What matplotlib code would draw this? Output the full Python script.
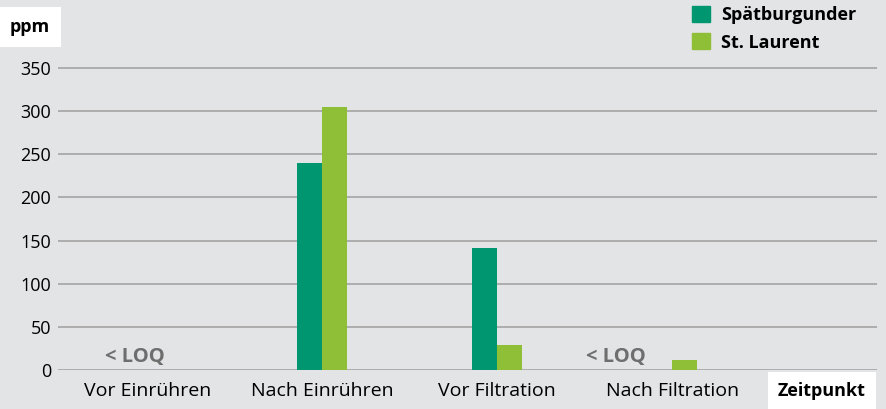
import numpy as np
import matplotlib
matplotlib.use('Agg')
from matplotlib import pyplot as plt
from matplotlib.patches import Patch

# data
categories = ['Vor Einrühren', 'Nach Einrühren', 'Vor Filtration', 'Nach Filtration']
spaetburgunder = [0, 240, 141, 0]
st_laurent = [0, 305, 29, 12]
loq_x = [-0.07, 2.68]
yticks = [0, 50, 100, 150, 200, 250, 300, 350]

bg = '#e3e4e6'
dark = '#009670'
light = '#8fbe37'
plt.rcParams['font.family'] = ['Open Sans', 'DejaVu Sans']
fs = 13

fig = plt.figure(figsize=(8.87, 4.09), dpi=100, facecolor=bg)
ax = fig.add_axes([58/887, 39/409, (877-58)/887, 310/409])
ax.set_facecolor(bg)

x = np.arange(len(categories))
w = 0.143
ax.bar(x - w/2, spaetburgunder, w, color=dark, zorder=3)
ax.bar(x + w/2, st_laurent, w, color=light, zorder=3)

for xl in loq_x:
    ax.text(xl, 4, '< LOQ', ha='center', va='bottom', fontsize=14.5,
            fontweight='bold', color='#6e6e6e', zorder=4)

ax.set_xlim(-0.51, 4.17)
ax.set_ylim(0, 350 * 310 / 302)
ax.set_yticks(yticks)
ax.set_xticks(x)
ax.set_xticklabels(categories)
ax.tick_params(axis='both', length=0, colors='black')
ax.tick_params(axis='y', pad=5, labelsize=fs)
ax.tick_params(axis='x', pad=9, labelsize=14)
ax.grid(axis='y', color='#a9a9a9', linewidth=1.3, zorder=0)
for s in ax.spines.values():
    s.set_visible(False)

# axis labels in white boxes
fig.text(30/887, 1 - 27/409, 'ppm', ha='center', va='center', fontsize=fs,
         fontweight='bold', bbox=dict(facecolor='white', edgecolor='none', pad=8))
fig.text(822/887, 1 - 391/409, 'Zeitpunkt', ha='center', va='center', fontsize=fs,
         fontweight='bold', bbox=dict(facecolor='white', edgecolor='none', pad=7))

handles = [Patch(color=dark), Patch(color=light)]
fig.legend(handles, ['Spätburgunder', 'St. Laurent'], loc='upper left',
           bbox_to_anchor=(676/887, 1.025), frameon=False, handlelength=1.0,
           handleheight=1.0, handletextpad=0.6, labelspacing=0.5,
           prop={'size': fs, 'weight': 'bold'})

plt.savefig('out.png', dpi=100, facecolor=bg)
